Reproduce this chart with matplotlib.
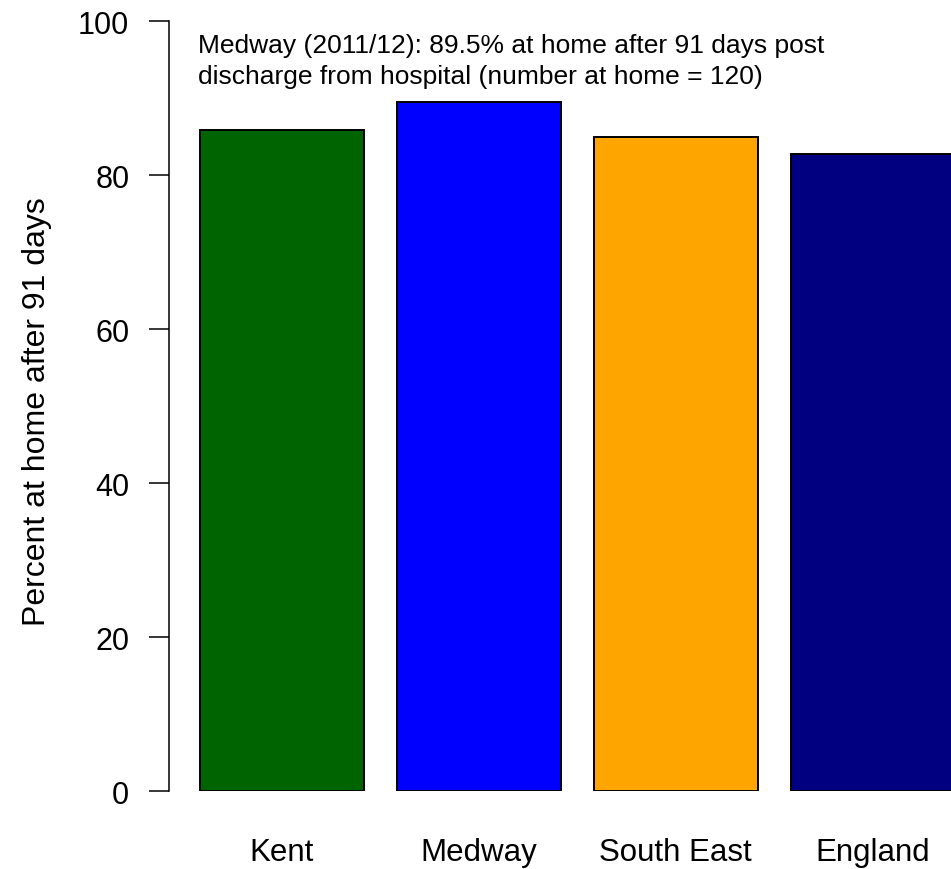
import numpy as np
import matplotlib.pyplot as plt

plt.rcParams['font.family'] = ['Liberation Sans', 'DejaVu Sans']

# данные
regions = ["Kent", "Medway", "South East", "England"]
pct_home = [85.9, 89.5, 85.0, 82.8]
bar_colors = ["#006400", "#0000FF", "#FFA500", "#000080"]
y_ticks = [0, 20, 40, 60, 80, 100]
note = ("Medway (2011/12): 89.5% at home after 91 days post\n"
        "discharge from hospital (number at home = 120)")

fig = plt.figure(figsize=(9.51, 8.7), dpi=100)
ax = fig.add_axes([0.178, 0.0893, 0.822, 0.885])

# позиции столбцов как в barplot (width=1, space=0.2)
pos = 0.2 + np.arange(len(regions)) * 1.2 + 0.5
ax.bar(pos, pct_home, width=1.0, color=bar_colors,
       edgecolor="black", linewidth=1.4)

ax.set_xlim(0.016, 4.775)
ax.set_ylim(0, 100)

for s in ["top", "right", "bottom"]:
    ax.spines[s].set_visible(False)
ax.spines["left"].set_bounds(0, 100)
ax.spines["left"].set_linewidth(1.1)

ax.set_yticks(y_ticks)
ax.tick_params(axis="y", labelsize=22, length=14.4, width=1.1, pad=14.4)
ax.set_xticks(pos)
ax.set_xticklabels(regions)
ax.tick_params(axis="x", labelsize=22.5, length=0, pad=33.0)

ax.set_ylabel("Percent at home after 91 days", fontsize=23)
ax.yaxis.set_label_coords(-0.150, 0.495)

ax.text(0.19, 98.5, note, ha="left", va="top", fontsize=19,
        linespacing=1.35)

fig.savefig("out.png", dpi=100)
